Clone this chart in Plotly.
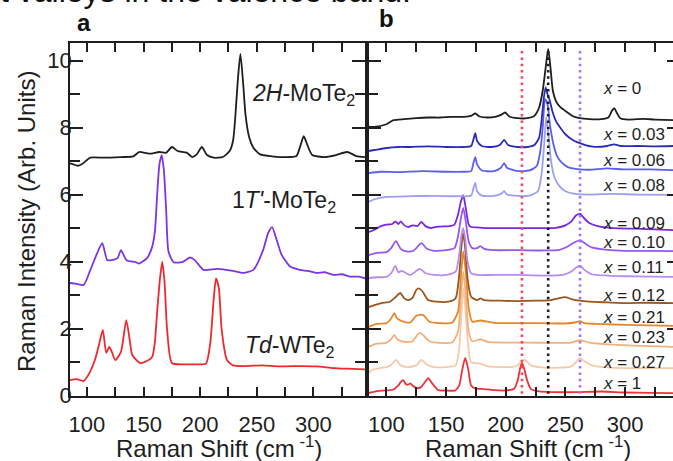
import plotly.graph_objects as go

# ---------------- Panel a data ----------------
a_2H_x = [85, 88, 92, 96, 103, 115, 130, 141, 146, 155, 164, 170, 175, 180, 188, 193, 197, 201.5, 206, 212, 220, 226,
          229, 231, 233, 235.5, 238, 240, 243, 247, 253, 262, 272, 285, 288, 291.5, 295, 299, 310, 320, 330, 338, 345.6]
a_2H_y = [6.93, 6.9, 6.86, 6.92, 7.1, 7.1, 7.12, 7.14, 7.27, 7.22, 7.27, 7.25, 7.42, 7.3, 7.25, 7.12, 7.2, 7.42, 7.18,
          7.1, 7.12, 7.3, 7.6, 8.3, 9.3, 10.2, 9.3, 8.4, 7.75, 7.4, 7.2, 7.15, 7.12, 7.15, 7.4, 7.74, 7.45, 7.18, 7.12,
          7.18, 7.27, 7.15, 7.12]

a_1T_x = [85, 90, 97, 103, 109, 113.5, 118, 123, 127, 130, 135, 143, 146, 153, 157.5, 160, 162, 164, 166, 168, 170,
          172, 176.5, 184, 191, 195, 203, 215, 229, 238, 247, 255.6, 260, 263.5, 268, 272, 279.5, 288, 295, 303, 310,
          318, 325, 332, 340, 345.6]
a_1T_y = [3.36, 3.34, 3.3, 3.75, 4.25, 4.55, 4.04, 4.05, 4.1, 4.34, 4.04, 3.98, 3.94, 4.1, 4.43, 4.9, 6.0, 6.9, 7.18,
          6.7, 5.5, 4.3, 3.98, 3.98, 4.12, 4.05, 3.75, 3.78, 3.72, 3.66, 3.75, 4.34, 4.85, 5.03, 4.6, 4.2, 3.85, 3.75,
          3.72, 3.66, 3.68, 3.6, 3.62, 3.55, 3.55, 3.5]

a_Td_x = [85, 91, 97, 101, 107, 110.5, 114, 117, 119.7, 122, 125, 130, 134.7, 138, 140, 147, 154, 157.6, 160, 162,
          164.5, 166.5, 168.5, 170.8, 175, 185, 195, 205, 209, 212, 214, 216.5, 219, 223.6, 229, 240, 255, 270, 290,
          303, 318, 330, 345.6]
a_Td_y = [0.46, 0.49, 0.43, 0.6, 1.06, 1.5, 1.96, 1.27, 1.45, 1.3, 1.06, 1.3, 2.25, 1.6, 1.21, 0.97, 1.05, 1.15, 1.6,
          2.5, 3.5, 3.99, 3.4, 1.96, 0.97, 0.93, 0.93, 0.95, 1.6, 2.9, 3.5, 3.2, 1.96, 1.06, 0.9, 0.88, 0.9, 0.87,
          0.88, 0.87, 0.82, 0.8, 0.78]

# ---------------- Panel b data ----------------
b_x0_x = [85, 90, 100, 106, 115, 125, 135, 145, 155, 165, 171, 174.5, 178, 185, 192, 196, 199.6, 203, 210, 218, 224,
          228, 231, 233.5, 235.6, 237.5, 239.5, 242, 246, 251.5, 257, 262, 270, 280, 286, 289, 291, 293, 296, 303,
          315, 325, 340.5]
b_x0_y = [8.03, 8.02, 8.1, 8.22, 8.25, 8.28, 8.3, 8.3, 8.32, 8.32, 8.35, 8.42, 8.33, 8.3, 8.33, 8.38, 8.45, 8.33,
          8.28, 8.28, 8.35, 8.6, 9.1, 9.8, 10.35, 9.8, 9.1, 8.8, 8.6, 8.46, 8.33, 8.28, 8.25, 8.25, 8.3, 8.5, 8.58,
          8.45, 8.28, 8.24, 8.26, 8.24, 8.22]

b_x003_x = [85, 90, 100, 110, 120, 135, 150, 165, 171, 173, 174.5, 176, 180, 188, 195, 198.7, 202, 210, 218, 224,
            228, 230, 232, 233.5, 235, 237, 239, 242, 245.6, 250, 256.5, 265, 273, 285, 290.8, 296, 310, 325, 340.5]
b_x003_y = [7.3, 7.33, 7.39, 7.42, 7.42, 7.44, 7.42, 7.42, 7.45, 7.65, 7.83, 7.6, 7.45, 7.42, 7.48, 7.63, 7.48, 7.42,
            7.42, 7.48, 7.7, 8.2, 8.9, 9.2, 9.0, 8.8, 8.5, 8.2, 8.0, 7.8, 7.62, 7.5, 7.43, 7.45, 7.5, 7.45, 7.45,
            7.44, 7.45]

b_x006_x = [85, 95, 110, 130, 150, 165, 171, 173, 174.5, 176, 180, 190, 196, 198.7, 201, 210, 220, 226, 229, 231,
            233, 235, 237, 240, 243, 247, 252, 260, 270, 285, 300, 320, 340.5]
b_x006_y = [6.64, 6.68, 6.67, 6.7, 6.68, 6.68, 6.7, 6.95, 7.12, 6.9, 6.72, 6.7, 6.8, 6.94, 6.8, 6.7, 6.72, 6.85, 7.3,
            8.0, 8.85, 8.7, 8.1, 7.5, 7.15, 6.95, 6.82, 6.76, 6.74, 6.78, 6.75, 6.75, 6.73]

b_x008_x = [85, 90, 100, 120, 140, 160, 171, 173, 174.5, 176, 180, 190, 196, 198.7, 201, 210, 220, 227, 230, 232,
            234, 236, 238, 241, 245, 250, 258, 270, 290, 310, 340.5]
b_x008_y = [5.78, 5.86, 5.93, 5.95, 5.96, 5.95, 5.97, 6.2, 6.35, 6.1, 5.97, 5.96, 6.02, 6.1, 6.0, 5.96, 5.97, 6.1,
            6.6, 7.4, 8.3, 7.7, 7.0, 6.5, 6.25, 6.1, 6.02, 6.0, 6.02, 6.0, 5.99]

b_x009_x = [85, 90, 95, 100, 105, 107.5, 110, 112, 115, 118.4, 122, 126, 129.3, 133, 137.7, 143, 148, 152, 157, 160,
            162.5, 164.4, 166.5, 169, 171, 176, 185, 195, 210, 225, 240, 250, 255, 259, 262.3, 265.5, 270, 278, 290,
            310, 325, 340.5]
b_x009_y = [4.88, 4.95, 5.05, 5.1, 5.12, 5.2, 5.12, 5.2, 5.08, 5.03, 5.08, 5.06, 5.18, 5.05, 5.0, 5.04, 5.05, 5.05,
            5.1, 5.4, 5.8, 5.98, 5.6, 5.1, 5.03, 5.02, 5.0, 5.0, 5.0, 5.0, 5.0, 5.08, 5.2, 5.38, 5.42, 5.3, 5.15, 5.05,
            5.0, 4.98, 4.96, 4.94]

b_x010_x = [85, 92, 100, 104, 108, 112, 117, 123, 129.3, 134, 140, 150, 157, 160, 162.5, 164.4, 166.5, 169, 172, 176,
            178.7, 182, 190, 210, 230, 245, 252, 257, 262.3, 266, 272, 285, 300, 320, 340.5]
b_x010_y = [4.19, 4.26, 4.28, 4.4, 4.61, 4.38, 4.3, 4.33, 4.55, 4.38, 4.32, 4.34, 4.4, 4.75, 5.3, 5.6, 5.2, 4.6, 4.4,
            4.4, 4.46, 4.38, 4.34, 4.34, 4.33, 4.35, 4.45, 4.56, 4.64, 4.55, 4.42, 4.35, 4.32, 4.32, 4.31]

b_x011_x = [85, 92, 100, 104, 107.5, 110, 113, 120, 128, 133, 140, 150, 158, 161, 163, 164.4, 166, 168, 171, 176,
            190, 210, 230, 248, 255, 259, 262.3, 266, 272, 285, 300, 320, 340.5]
b_x011_y = [3.5, 3.53, 3.54, 3.65, 3.87, 3.68, 3.72, 3.6, 3.78, 3.65, 3.6, 3.6, 3.7, 4.2, 4.8, 5.0, 4.7, 4.0, 3.65,
            3.6, 3.6, 3.6, 3.58, 3.6, 3.7, 3.82, 3.87, 3.75, 3.62, 3.58, 3.56, 3.55, 3.54]

b_x012_x = [85, 90, 96, 103, 108, 111.7, 115, 118.4, 122, 125, 127, 130, 135, 142, 152, 158, 161, 163, 164.4, 166,
            168, 171, 176, 178.7, 182, 195, 210, 225, 238, 244, 249.8, 255, 262, 270, 285, 300, 320, 340.5]
b_x012_y = [2.64, 2.7, 2.76, 2.8, 2.95, 3.06, 2.9, 2.85, 2.92, 3.15, 3.2, 3.12, 2.85, 2.8, 2.8, 2.9, 3.6, 4.5, 4.85,
            4.4, 3.5, 2.95, 2.85, 2.9, 2.85, 2.83, 2.82, 2.83, 2.85, 2.9, 2.94, 2.88, 2.83, 2.8, 2.78, 2.76, 2.77, 2.76]

b_x021_x = [85, 92, 100, 104, 106.7, 109, 113, 120, 125, 128, 131, 136, 145, 155, 160, 162.5, 164.4, 166.5, 169, 172,
            178.7, 190, 210, 230, 250, 258, 262.3, 266, 275, 290, 310, 340.5]
b_x021_y = [2.05, 2.14, 2.16, 2.3, 2.46, 2.3, 2.22, 2.18, 2.38, 2.41, 2.4, 2.2, 2.16, 2.17, 2.5, 3.6, 4.3, 3.7, 2.6,
            2.2, 2.24, 2.17, 2.16, 2.16, 2.15, 2.18, 2.22, 2.16, 2.14, 2.12, 2.1, 2.08]

b_x023_x = [85, 92, 100, 104, 106.7, 109, 115, 122, 126, 128, 131, 136, 145, 155, 160, 162.5, 164.4, 166.5, 169, 172,
            178.7, 185, 200, 220, 240, 255, 262.3, 270, 290, 315, 340.5]
b_x023_y = [1.45, 1.55, 1.57, 1.68, 1.81, 1.68, 1.6, 1.62, 1.82, 1.87, 1.8, 1.62, 1.57, 1.58, 1.9, 3.0, 3.7, 3.0, 1.9,
            1.62, 1.68, 1.6, 1.58, 1.58, 1.57, 1.58, 1.65, 1.58, 1.52, 1.48, 1.45]

b_x027_x = [85, 88, 95, 100, 104, 108, 112, 118, 125, 129.3, 134, 140, 150, 158, 161, 163, 164.4, 166, 168, 171,
            178.7, 185, 195, 205, 210, 213, 216, 221, 230, 245, 255, 259, 262.3, 266, 272, 285, 300, 320, 340.5]
b_x027_y = [0.67, 0.76, 0.82, 0.85, 0.92, 1.06, 0.9, 0.85, 0.9, 1.06, 0.92, 0.85, 0.85, 0.9, 1.4, 2.5, 3.2, 2.7, 1.7,
            1.0, 0.95, 0.87, 0.85, 0.85, 0.9, 1.02, 1.06, 0.9, 0.84, 0.83, 0.87, 1.0, 1.12, 1.02, 0.9, 0.84, 0.82,
            0.82, 0.82]

b_x1_x = [85, 92, 100, 106, 110, 112, 114.2, 116, 118, 120, 122, 125, 129, 132, 135, 138, 143.5, 150, 157.7, 161,
          163.5, 166, 168.5, 171, 175, 180, 190, 200, 207, 210, 212, 213.5, 215.5, 218, 221, 228, 240, 260, 280, 300,
          320, 340.5]
b_x1_y = [0.07, 0.13, 0.15, 0.18, 0.3, 0.4, 0.46, 0.35, 0.32, 0.36, 0.3, 0.22, 0.25, 0.38, 0.52, 0.38, 0.16, 0.15,
          0.15, 0.3, 0.75, 1.12, 0.8, 0.3, 0.2, 0.2, 0.16, 0.15, 0.2, 0.45, 0.8, 0.97, 0.8, 0.45, 0.2, 0.12, 0.1, 0.1,
          0.12, 0.09, 0.08, 0.07]

b_labels = ["0", "0.03", "0.06", "0.08", "0.09", "0.10", "0.11", "0.12", "0.21", "0.23", "0.27", "1"]
b_label_y = [9.18, 7.78, 7.03, 6.28, 5.15, 4.58, 3.81, 3.0, 2.34, 1.72, 1.0, 0.37]

# reference (dotted) line positions in panel b, cm^-1
ref_lines = [213.6, 235.6, 262.3]

# ---------------- styling ----------------
FONT = "Liberation Sans, Arial, Helvetica, sans-serif"
INK = "#1e1e1e"
a_colors = ["#1e1e1e", "#7b34e6", "#f0282e"]
b_colors = ["#1e1e1e", "#2a2db4", "#5b5ef0", "#9d9ff6", "#7a26e4", "#9658ef", "#b58cf5",
            "#9a5620", "#e8872a", "#f2b07c", "#f6caa8", "#ee3236"]
ref_colors = ["#f24a5e", "#1e1e1e", "#a276f2"]

b_xs = [b_x0_x, b_x003_x, b_x006_x, b_x008_x, b_x009_x, b_x010_x, b_x011_x,
        b_x012_x, b_x021_x, b_x023_x, b_x027_x, b_x1_x]
b_ys = [b_x0_y, b_x003_y, b_x006_y, b_x008_y, b_x009_y, b_x010_y, b_x011_y,
        b_x012_y, b_x021_y, b_x023_y, b_x027_y, b_x1_y]

W, H = 673, 461
ML, MR, MT, MB = 0, 0, 43, 65
PW, PH = W - ML - MR, H - MT - MB

def px(xp):
    return (xp - ML) / PW

def py(yp):
    return 1 - (yp - MT) / PH

YR = [-0.015, 10.525]

fig = go.Figure()

for xs, ys, c in zip([a_2H_x, a_1T_x, a_Td_x], [a_2H_y, a_1T_y, a_Td_y], a_colors):
    fig.add_trace(go.Scatter(x=xs, y=ys, mode="lines", line=dict(color=c, width=1.8, shape="spline", smoothing=0.6),
                             xaxis="x", yaxis="y", showlegend=False, hoverinfo="skip"))

for xs, ys, c in reversed(list(zip(b_xs, b_ys, b_colors))):
    fig.add_trace(go.Scatter(x=xs, y=ys, mode="lines", line=dict(color=c, width=1.8, shape="spline", smoothing=0.6),
                             xaxis="x2", yaxis="y2", showlegend=False, hoverinfo="skip"))

# invisible trace to host right-side ticks of panel b
fig.add_trace(go.Scatter(x=[b_x0_x[0]], y=[b_x0_y[0]], mode="markers", marker=dict(opacity=0),
                         xaxis="x2", yaxis="y3", showlegend=False, hoverinfo="skip"))

for xv, c in zip(ref_lines, ref_colors):
    fig.add_shape(type="line", xref="x2", yref="y2", x0=xv, x1=xv, y0=0.05, y1=10.4,
                  line=dict(color=c, width=2.6, dash="2.5px,3.8px"), layer="above")

xa_common = dict(showline=True, linecolor=INK, linewidth=1.5, ticks="inside", ticklen=9, tickwidth=1.5,
                 tickcolor=INK, mirror="ticks", tick0=100, dtick=50, showgrid=False, zeroline=False,
                 minor=dict(dtick=25, tick0=100, ticks="inside", ticklen=9, tickwidth=1.5, tickcolor=INK,
                            showgrid=False),
                 tickfont=dict(family=FONT, size=22, color=INK), ticklabelstandoff=8)
ya_common = dict(showline=True, linecolor=INK, linewidth=1.5, ticks="inside", ticklen=13, tickwidth=1.5,
                 tickcolor=INK, range=YR, tick0=0, dtick=2, showgrid=False, zeroline=False,
                 minor=dict(dtick=1, ticks="inside", ticklen=10, tickwidth=1.5, tickcolor=INK, showgrid=False),
                 tickfont=dict(family=FONT, size=22, color=INK), ticklabelstandoff=-8)

fig.update_layout(
    width=W, height=H, margin=dict(l=ML, r=MR, t=MT, b=MB),
    paper_bgcolor="white", plot_bgcolor="white",
    xaxis=dict(domain=[px(70), px(365)], range=[85, 345.6], anchor="y", **xa_common),
    yaxis=dict(domain=[0, 1], anchor="x", mirror="ticks", **ya_common),
    xaxis2=dict(domain=[px(368.5), 1.0], range=[85, 340.2], anchor="y2", **xa_common),
    yaxis2=dict(domain=[0, 1], anchor="x2", mirror=False, showticklabels=False, **ya_common),
    yaxis3=dict(overlaying="y2", anchor="x2", side="right", range=YR, showline=False, ticks="inside",
                ticklen=6, tickwidth=1.5, tickcolor=INK, dtick=2, tick0=0, showticklabels=False,
                showgrid=False, zeroline=False),
)

ann = []
# top caption fragment (cropped)
ann.append(dict(text="t valleys in the valence band.", x=px(-2), y=py(17), xref="paper", yref="paper",
                xanchor="left", yanchor="bottom", yshift=6, showarrow=False,
                font=dict(family=FONT, size=32, color="#111")))
# panel letters
ann.append(dict(text="<b>a</b>", x=px(84), y=py(23), xref="paper", yref="paper", showarrow=False,
                xanchor="center", yanchor="middle", font=dict(family=FONT, size=24, color="#111")))
ann.append(dict(text="<b>b</b>", x=px(386), y=py(19), xref="paper", yref="paper", showarrow=False,
                xanchor="center", yanchor="middle", font=dict(family=FONT, size=24, color="#111")))
# axis titles
ann.append(dict(text="Raman Intensity (Arb. Units)", x=px(27), y=py(222), xref="paper", yref="paper",
                textangle=-90, showarrow=False, xanchor="center", yanchor="middle",
                font=dict(family=FONT, size=24, color=INK)))
for cx in [219, 528]:
    ann.append(dict(text="Raman Shift (cm<sup> -1</sup>)", x=px(cx), y=py(447), xref="paper", yref="paper",
                    showarrow=False, xanchor="center", yanchor="middle",
                    font=dict(family=FONT, size=24, color=INK)))
# panel a sample labels
a_label_text = ["<i>2H</i>-MoTe<sub>2</sub>", "1<i>T'</i>-MoTe<sub>2</sub>", "<i>Td</i>-WTe<sub>2</sub>"]
a_label_x = [244.3, 226.6, 238.0]
a_label_y = [9.0, 5.8, 1.45]
for t, xv, yv in zip(a_label_text, a_label_x, a_label_y):
    ann.append(dict(text=t, x=xv, y=yv, xref="x", yref="y", showarrow=False, xanchor="left",
                    yanchor="middle", font=dict(family=FONT, size=23, color=INK)))
# panel b labels
for t, yv in zip(b_labels, b_label_y):
    ann.append(dict(text="<i>x</i> = " + t, x=280.0, y=yv, xref="x2", yref="y2", showarrow=False,
                    xanchor="left", yanchor="middle", font=dict(family=FONT, size=17, color=INK)))

fig.update_layout(annotations=ann)
fig.write_html("out.html")
